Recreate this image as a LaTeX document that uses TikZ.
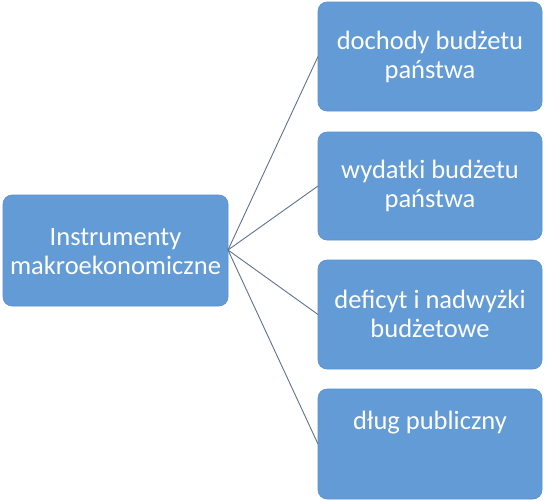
\documentclass[tikz,border=0pt]{standalone}
\usepackage{fontspec}
\setmainfont{Carlito}
\definecolor{boxfill}{RGB}{98,155,213}
\definecolor{boxedge}{RGB}{90,145,205}
\definecolor{linkc}{RGB}{95,115,140}
\begin{document}
\begin{tikzpicture}[x=1pt,y=-1pt,
  box/.style={draw=boxedge,fill=boxfill,rounded corners=9pt,line width=0.6pt},
  lbl/.style={text=white,font=\fontsize{26.5}{29}\selectfont,align=center,inner sep=0pt},
  link/.style={draw=linkc,line width=0.9pt}]
\useasboundingbox (0,0) rectangle (550,501);
\fill[white] (0,0) rectangle (550,501);
% left box
\draw[box] (3,195) rectangle (228,306);
\coordinate (src) at (228,250);
\node[lbl] (t0) at (115.5,252) {Instrumenty\\makroekonomiczne};
% right boxes
\draw[box] (318,2) rectangle (542,111);
\draw[box] (318,132) rectangle (542,240);
\draw[box] (318,260) rectangle (542,369);
\draw[box] (318,389) rectangle (542,499);
\coordinate (d1) at (318,56.5);
\coordinate (d2) at (318,186);
\coordinate (d3) at (318,314.5);
\coordinate (d4) at (318,444);
\node[lbl] (t1) at (430,57) {dochody budżetu\\państwa};
\node[lbl] (t2) at (430,186) {wydatki budżetu\\państwa};
\node[lbl] (t3) at (430,314) {deficyt i nadwyżki\\budżetowe};
\node[lbl] (t4) at (430,423) {dług publiczny};
\foreach \d in {d1,d2,d3,d4} \draw[link] (src) -- (\d);
\end{tikzpicture}
\end{document}
